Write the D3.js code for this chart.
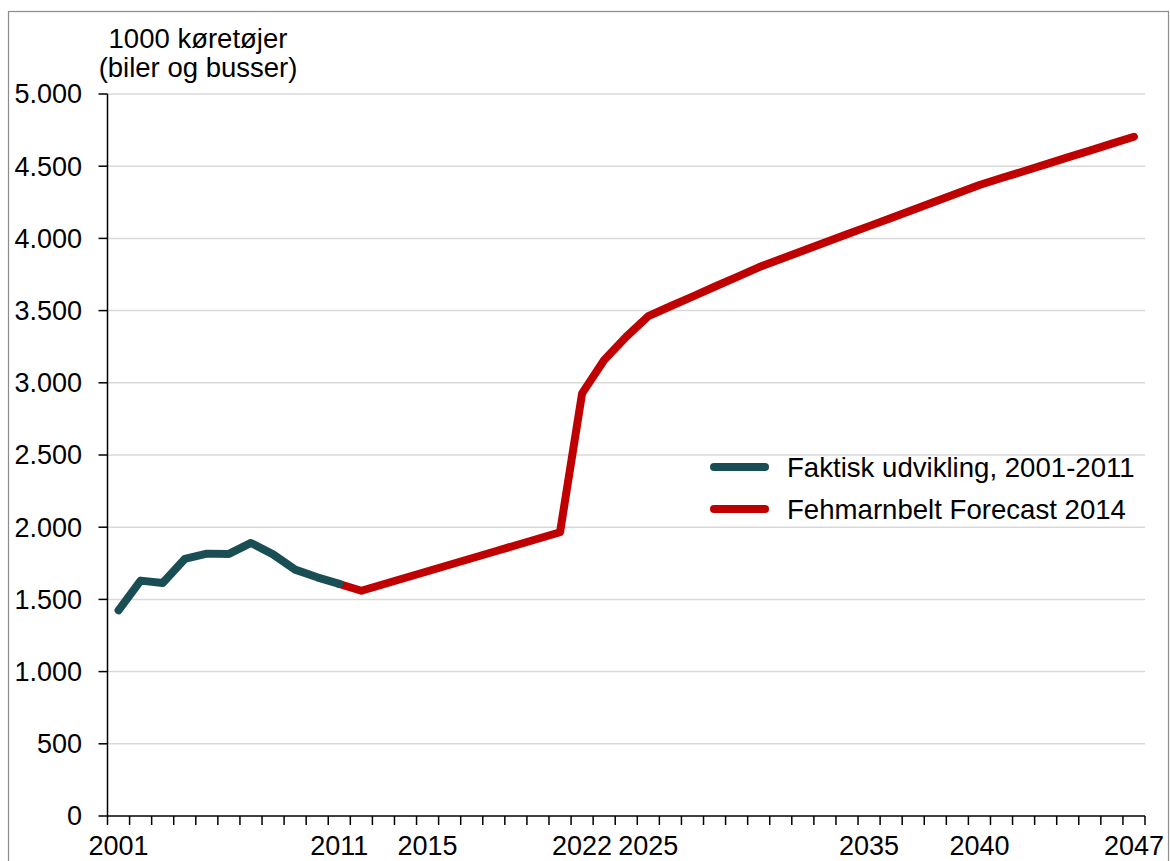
<!DOCTYPE html>
<html>
<head>
<meta charset="utf-8">
<script src="https://cdn.jsdelivr.net/npm/d3@7"></script>
<style>
  html, body { margin: 0; padding: 0; background: #fff; }
  svg { display: block; font-family: "Liberation Sans", Arial, sans-serif; }
</style>
</head>
<body>
<svg id="chart" width="1170" height="861"></svg>
<script>
// ---- data ----
const years = d3.range(2001, 2048);
const actualYears = [2001, 2002, 2003, 2004, 2005, 2006, 2007, 2008, 2009, 2010, 2011];
const actualValues = [1424, 1630, 1614, 1780, 1817, 1815, 1891, 1812, 1706, 1653, 1607];
const forecastYears = d3.range(2011, 2048);
const forecastValues = [
  1607, 1560, 1605, 1650, 1695, 1740, 1785, 1830, 1875, 1920, 1965,
  2927, 3158, 3319, 3462, 3530, 3597, 3665, 3732, 3800,
  3857, 3914, 3971, 4028, 4085, 4142, 4199, 4256, 4313, 4370,
  4418, 4465, 4513, 4561, 4608, 4656, 4704
];
const xLabelYears = [2001, 2011, 2015, 2022, 2025, 2035, 2040, 2047];
const yTicks = [0, 500, 1000, 1500, 2000, 2500, 3000, 3500, 4000, 4500, 5000];
const yTitle = ["1000 køretøjer", "(biler og busser)"];
const seriesNames = ["Faktisk udvikling, 2001-2011", "Fehmarnbelt Forecast 2014"];
const seriesColors = ["#1a4e55", "#c00000"];

(function () {
// ---- layout ----
const svg = d3.select("#chart");
const pl = 107.5, pr = 1145, pt = 94, pb = 816;
const fs = 27;
const fmt = v => d3.format(",")(v).replace(/,/g, ".");

const x = d3.scaleBand().domain(years).range([pl, pr]).padding(0);
const y = d3.scaleLinear().domain([0, 5000]).range([pb, pt]);
const cx = yr => x(yr) + x.bandwidth() / 2;

// outer border
svg.append("rect")
  .attr("x", 8.5).attr("y", 11.5).attr("width", 1160).attr("height", 900)
  .attr("fill", "none").attr("stroke", "#8c8c8c").attr("stroke-width", 1.2);

// gridlines
svg.append("g").selectAll("line").data(yTicks.filter(d => d > 0)).join("line")
  .attr("x1", pl).attr("x2", pr)
  .attr("y1", d => y(d)).attr("y2", d => y(d))
  .attr("stroke", "#d9d9d9").attr("stroke-width", 1.5);

// y axis
svg.append("line").attr("x1", pl).attr("x2", pl).attr("y1", pt).attr("y2", pb)
  .attr("stroke", "#000").attr("stroke-width", 1.5);
svg.append("g").selectAll("line").data(yTicks).join("line")
  .attr("x1", pl - 9).attr("x2", pl)
  .attr("y1", d => y(d)).attr("y2", d => y(d))
  .attr("stroke", "#000").attr("stroke-width", 1.5);
svg.append("g").selectAll("text").data(yTicks).join("text")
  .attr("x", 82).attr("y", d => y(d)).attr("dy", "0.35em")
  .attr("text-anchor", "end").attr("font-size", fs).attr("fill", "#000")
  .text(d => fmt(d));

// x axis
svg.append("line").attr("x1", pl).attr("x2", pr).attr("y1", pb).attr("y2", pb)
  .attr("stroke", "#000").attr("stroke-width", 1.5);
const boundaries = years.map(d => x(d)).concat([x(years[years.length - 1]) + x.bandwidth()]);
svg.append("g").selectAll("line").data(boundaries).join("line")
  .attr("x1", d => d).attr("x2", d => d)
  .attr("y1", pb).attr("y2", pb + 9)
  .attr("stroke", "#000").attr("stroke-width", 1.5);
svg.append("g").selectAll("text").data(xLabelYears).join("text")
  .attr("x", d => cx(d)).attr("y", 855)
  .attr("text-anchor", "middle").attr("font-size", fs).attr("fill", "#000")
  .text(d => d);

// y title
svg.append("g").selectAll("text").data(yTitle).join("text")
  .attr("x", 198).attr("y", (d, i) => 48 + i * 29)
  .attr("text-anchor", "middle").attr("font-size", 27.5).attr("fill", "#000")
  .text(d => d);

// lines
const line = d3.line().x(d => cx(d[0])).y(d => y(d[1]));
const forecastData = forecastYears.map((yr, i) => [yr, forecastValues[i]]);
const actualData = actualYears.map((yr, i) => [yr, actualValues[i]]);
svg.append("path").datum(forecastData).attr("d", line)
  .attr("fill", "none").attr("stroke", seriesColors[1]).attr("stroke-width", 8)
  .attr("stroke-linecap", "round").attr("stroke-linejoin", "round");
svg.append("path").datum(actualData).attr("d", line)
  .attr("fill", "none").attr("stroke", seriesColors[0]).attr("stroke-width", 8)
  .attr("stroke-linecap", "round").attr("stroke-linejoin", "round");

// legend
const lg = svg.append("g").selectAll("g").data(seriesNames).join("g")
  .attr("transform", (d, i) => `translate(0, ${467 + i * 42})`);
lg.append("line").attr("x1", 714).attr("x2", 765).attr("y1", 0).attr("y2", 0)
  .attr("stroke", (d, i) => seriesColors[i]).attr("stroke-width", 8)
  .attr("stroke-linecap", "round");
lg.append("text").attr("x", 787).attr("y", 0).attr("dy", "0.35em")
  .attr("font-size", 27.6).attr("fill", "#000").text(d => d);
})();
</script>
</body>
</html>
